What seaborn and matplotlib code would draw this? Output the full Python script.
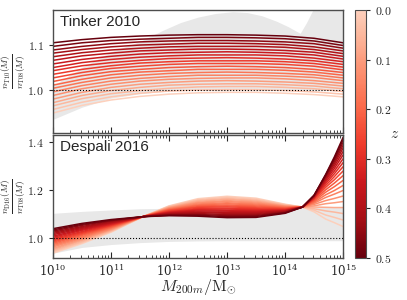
import numpy as np
import pandas as pd
import matplotlib
matplotlib.use("Agg")
import matplotlib.pyplot as plt
import seaborn as sns
from matplotlib.colors import LinearSegmentedColormap, Normalize
from matplotlib.cm import ScalarMappable
from matplotlib.ticker import FuncFormatter, LogLocator, NullFormatter

# ── Datos ────────────────────────────────────────────────────────────────────
# redshifts de cada curva (0 = claro, 0.5 = oscuro)
Z_VALUES = [0.0, 0.025, 0.05, 0.075, 0.1, 0.125, 0.15, 0.175, 0.2, 0.225, 0.25,
            0.275, 0.3, 0.325, 0.35, 0.375, 0.4, 0.425, 0.45, 0.475, 0.5]

# log10(M) donde se leyeron las curvas del panel superior
LOGM_TOP = [10, 10.5, 11, 11.5, 12, 12.5, 13, 13.5, 14, 14.5, 15]
# n_T10 / n_T08, una fila por redshift
RATIO_T10 = [
    [0.949, 0.966, 0.978, 0.986, 0.991, 0.994, 0.995, 0.995, 0.993, 0.990, 0.985],
    [0.957, 0.973, 0.985, 0.993, 0.998, 1.000, 1.001, 1.001, 0.999, 0.996, 0.991],
    [0.965, 0.981, 0.992, 0.999, 1.004, 1.007, 1.008, 1.008, 1.006, 1.003, 0.997],
    [0.972, 0.988, 0.999, 1.006, 1.011, 1.013, 1.014, 1.014, 1.012, 1.009, 1.003],
    [0.980, 0.995, 1.006, 1.013, 1.017, 1.020, 1.021, 1.020, 1.018, 1.015, 1.009],
    [0.988, 1.003, 1.013, 1.020, 1.024, 1.026, 1.027, 1.027, 1.025, 1.021, 1.015],
    [0.996, 1.010, 1.020, 1.026, 1.030, 1.033, 1.033, 1.033, 1.031, 1.028, 1.021],
    [1.004, 1.017, 1.027, 1.033, 1.037, 1.039, 1.040, 1.039, 1.037, 1.034, 1.027],
    [1.011, 1.024, 1.034, 1.040, 1.043, 1.046, 1.046, 1.046, 1.044, 1.040, 1.033],
    [1.019, 1.032, 1.041, 1.046, 1.050, 1.052, 1.053, 1.052, 1.050, 1.046, 1.039],
    [1.027, 1.039, 1.048, 1.053, 1.057, 1.059, 1.059, 1.059, 1.057, 1.053, 1.045],
    [1.035, 1.046, 1.054, 1.060, 1.063, 1.065, 1.065, 1.065, 1.063, 1.059, 1.051],
    [1.043, 1.054, 1.061, 1.066, 1.070, 1.071, 1.072, 1.071, 1.069, 1.065, 1.057],
    [1.050, 1.061, 1.068, 1.073, 1.076, 1.078, 1.078, 1.078, 1.076, 1.071, 1.063],
    [1.058, 1.068, 1.075, 1.080, 1.083, 1.084, 1.085, 1.084, 1.082, 1.078, 1.069],
    [1.066, 1.076, 1.082, 1.087, 1.089, 1.091, 1.091, 1.090, 1.088, 1.084, 1.075],
    [1.074, 1.083, 1.089, 1.093, 1.096, 1.097, 1.097, 1.097, 1.095, 1.090, 1.081],
    [1.082, 1.090, 1.096, 1.100, 1.102, 1.104, 1.104, 1.103, 1.101, 1.096, 1.087],
    [1.089, 1.097, 1.103, 1.107, 1.109, 1.110, 1.110, 1.109, 1.107, 1.103, 1.093],
    [1.097, 1.105, 1.110, 1.113, 1.115, 1.117, 1.117, 1.116, 1.114, 1.109, 1.099],
    [1.105, 1.112, 1.117, 1.120, 1.122, 1.123, 1.123, 1.122, 1.120, 1.115, 1.105],
]

# log10(M) donde se leyeron las curvas del panel inferior
LOGM_BOT = [10, 10.5, 11, 11.55, 12, 12.5, 13, 13.5, 14, 14.3, 14.5, 14.7, 14.85, 15]
# n_D16 / n_T08, una fila por redshift
RATIO_D16 = [
    [0.938, 0.978, 1.025, 1.090, 1.135, 1.165, 1.175, 1.167, 1.142, 1.130, 1.110, 1.080, 1.065, 1.049],
    [0.943, 0.982, 1.028, 1.090, 1.133, 1.161, 1.171, 1.163, 1.140, 1.130, 1.117, 1.097, 1.087, 1.076],
    [0.948, 0.986, 1.030, 1.090, 1.131, 1.158, 1.166, 1.159, 1.138, 1.130, 1.123, 1.114, 1.109, 1.103],
    [0.953, 0.991, 1.033, 1.090, 1.129, 1.154, 1.162, 1.155, 1.136, 1.130, 1.130, 1.129, 1.128, 1.128],
    [0.958, 0.995, 1.036, 1.090, 1.127, 1.150, 1.157, 1.151, 1.134, 1.130, 1.135, 1.144, 1.148, 1.153],
    [0.964, 0.999, 1.038, 1.090, 1.125, 1.147, 1.153, 1.147, 1.133, 1.130, 1.141, 1.157, 1.166, 1.176],
    [0.969, 1.003, 1.041, 1.090, 1.123, 1.143, 1.148, 1.143, 1.131, 1.130, 1.146, 1.170, 1.184, 1.199],
    [0.974, 1.007, 1.044, 1.090, 1.121, 1.139, 1.144, 1.139, 1.129, 1.130, 1.150, 1.181, 1.199, 1.220],
    [0.979, 1.012, 1.046, 1.090, 1.119, 1.136, 1.139, 1.135, 1.127, 1.130, 1.154, 1.192, 1.215, 1.241],
    [0.984, 1.016, 1.049, 1.090, 1.117, 1.132, 1.135, 1.131, 1.125, 1.130, 1.158, 1.202, 1.230, 1.261],
    [0.989, 1.020, 1.052, 1.090, 1.115, 1.129, 1.131, 1.127, 1.123, 1.130, 1.162, 1.212, 1.244, 1.280],
    [0.994, 1.024, 1.054, 1.090, 1.112, 1.125, 1.126, 1.123, 1.121, 1.130, 1.165, 1.220, 1.257, 1.298],
    [0.999, 1.028, 1.057, 1.090, 1.110, 1.121, 1.122, 1.119, 1.119, 1.130, 1.167, 1.228, 1.269, 1.315],
    [1.004, 1.033, 1.059, 1.090, 1.108, 1.118, 1.117, 1.115, 1.117, 1.130, 1.170, 1.235, 1.280, 1.331],
    [1.009, 1.037, 1.062, 1.090, 1.106, 1.114, 1.113, 1.111, 1.115, 1.130, 1.172, 1.242, 1.291, 1.347],
    [1.015, 1.041, 1.065, 1.090, 1.104, 1.110, 1.108, 1.107, 1.114, 1.130, 1.174, 1.247, 1.301, 1.361],
    [1.020, 1.045, 1.067, 1.090, 1.102, 1.107, 1.104, 1.103, 1.112, 1.130, 1.176, 1.253, 1.310, 1.375],
    [1.025, 1.049, 1.070, 1.090, 1.100, 1.103, 1.099, 1.099, 1.110, 1.130, 1.177, 1.257, 1.318, 1.387],
    [1.030, 1.054, 1.073, 1.090, 1.098, 1.099, 1.095, 1.095, 1.108, 1.130, 1.178, 1.260, 1.326, 1.399],
    [1.035, 1.058, 1.075, 1.090, 1.096, 1.096, 1.090, 1.091, 1.106, 1.130, 1.179, 1.264, 1.333, 1.410],
    [1.040, 1.062, 1.078, 1.090, 1.094, 1.092, 1.086, 1.087, 1.104, 1.130, 1.179, 1.266, 1.339, 1.420],
]

# bandas grises (incertidumbre)
BAND_TOP_LOGM = [10, 10.5, 11, 11.5, 11.9, 12.2, 12.5, 12.8, 13.1, 13.35, 13.6, 13.85,
                 14.05, 14.26, 14.37, 14.48, 15]
BAND_TOP_LOW = [0.935, 0.962, 0.982, 0.992, 0.997, 1.0, 1.0, 1.0, 1.0, 1.0, 1.0, 1.0,
                1.0, 1.0, 1.0, 1.0, 1.0]
BAND_TOP_HIGH = [1.01, 1.05, 1.085, 1.108, 1.133, 1.150, 1.162, 1.170, 1.174, 1.172, 1.165, 1.153,
                 1.141, 1.126, 1.150, 1.178, 1.35]

BAND_BOT_LOGM = [10, 10.5, 11, 11.5, 12, 12.5, 13, 14, 15]
BAND_BOT_LOW = [0.938, 0.962, 0.974, 0.982, 0.987, 0.989, 0.990, 0.990, 0.990]
BAND_BOT_HIGH = [1.104, 1.112, 1.118, 1.123, 1.125, 1.127, 1.128, 1.128, 1.128]

# ── Estilo ───────────────────────────────────────────────────────────────────
sns.set_style("ticks")
plt.rcParams["font.family"] = ["DejaVu Serif"]
plt.rcParams["mathtext.fontset"] = "cm"

reds = plt.get_cmap("Reds")
CMAP = LinearSegmentedColormap.from_list("reds_trunc", reds(np.linspace(0.18, 1.0, 256)))
NORM = Normalize(vmin=0.0, vmax=0.5)
SPINE = "0.3"
math_fmt = FuncFormatter(lambda v, p: r"$%.1f$" % v)


def to_long(logm, rows):
    """Tabla larga (M, ratio, z) para sns.lineplot."""
    recs = []
    for z, row in zip(Z_VALUES, rows):
        for lm, r in zip(logm, row):
            recs.append({"M": 10 ** lm, "ratio": r, "z": z})
    return pd.DataFrame(recs)


fig = plt.figure(figsize=(4.07, 3.0), dpi=100)
ax_top = fig.add_axes([0.130, 0.557, 0.713, 0.410])
ax_bot = fig.add_axes([0.130, 0.140, 0.713, 0.410])
cax = fig.add_axes([0.872, 0.140, 0.027, 0.827])

panels = [
    (ax_top, LOGM_TOP, RATIO_T10, BAND_TOP_LOGM, BAND_TOP_LOW, BAND_TOP_HIGH,
     "Tinker 2010", r"$\frac{n_{\rm T10}(M)}{n_{\rm T08}(M)}$", (0.905, 1.178), [1.0, 1.1]),
    (ax_bot, LOGM_BOT, RATIO_D16, BAND_BOT_LOGM, BAND_BOT_LOW, BAND_BOT_HIGH,
     "Despali 2016", r"$\frac{n_{\rm D16}(M)}{n_{\rm T08}(M)}$", (0.918, 1.43), [1.0, 1.2, 1.4]),
]

for ax, logm, rows, blogm, blow, bhigh, name, ylab, ylim, yticks in panels:
    ax.set_xscale("log")
    bx = [10 ** v for v in blogm]
    ax.fill_between(bx, blow, bhigh, color="0.91", lw=0, zorder=0)
    df = to_long(logm, rows)
    sns.lineplot(data=df, x="M", y="ratio", hue="z", palette=CMAP, hue_norm=NORM,
                 legend=False, lw=1.1, ax=ax, zorder=2)
    ax.axhline(1.0, color="k", ls=":", lw=0.8, zorder=3)
    ax.set_xlim(1e10, 1e15)
    ax.set_ylim(*ylim)
    ax.set_yticks(yticks)
    ax.yaxis.set_major_formatter(math_fmt)
    ax.set_ylabel(ylab, fontsize=9.5)
    ax.yaxis.set_label_coords(-0.09, 0.5)
    ax.text(0.024, 0.96, name, transform=ax.transAxes, va="top", ha="left",
            fontsize=11, family="Liberation Sans")
    ax.xaxis.set_major_locator(LogLocator(base=10, numticks=10))
    ax.xaxis.set_minor_locator(LogLocator(base=10, subs=np.arange(2, 10), numticks=50))
    ax.xaxis.set_minor_formatter(NullFormatter())
    ax.tick_params(axis="x", which="both", direction="in", top=True)
    ax.tick_params(axis="x", which="major", length=4)
    ax.tick_params(axis="x", which="minor", length=2)
    ax.tick_params(axis="y", direction="out", length=3, labelsize=8.5)
    ax.tick_params(axis="x", labelsize=8.5)
    for sp in ax.spines.values():
        sp.set_color(SPINE)
        sp.set_linewidth(1.0)

ax_top.tick_params(axis="x", which="both", top=False, labelbottom=False)
ax_top.set_xlabel("")
ax_bot.set_xlabel(r"$M_{200m}/{\rm M}_{\odot}$", fontsize=11.5, va="top")
ax_bot.xaxis.set_label_coords(0.5, -0.155)

sm = ScalarMappable(norm=NORM, cmap=CMAP)
cb = fig.colorbar(sm, cax=cax)
cax.invert_yaxis()
cb.set_ticks([0.0, 0.1, 0.2, 0.3, 0.4, 0.5])
cb.ax.yaxis.set_major_formatter(math_fmt)
cb.ax.tick_params(labelsize=8.5, length=3)
cb.outline.set_edgecolor(SPINE)
cax.set_ylabel(r"$z$", rotation=0, fontsize=11, va="center")
cax.yaxis.set_label_coords(3.6, 0.5)

plt.savefig("out.png", dpi=100)
plt.close()
